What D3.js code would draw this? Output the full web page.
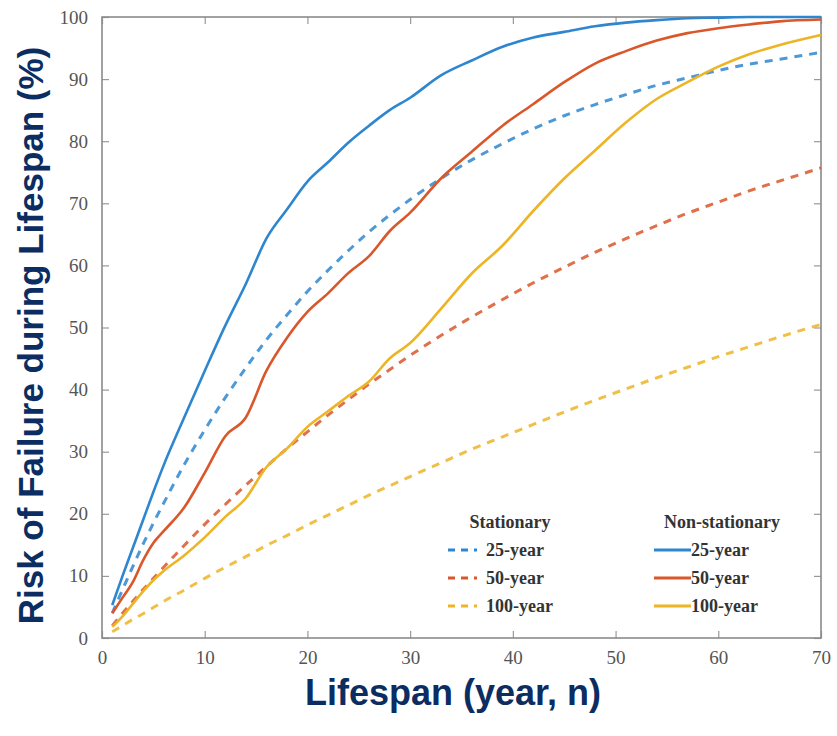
<!DOCTYPE html>
<html>
<head>
<meta charset="utf-8">
<script src="https://cdn.jsdelivr.net/npm/d3@7"></script>
<style>
  body { margin: 0; background: #fff; }
  .legend text { font-family: "Liberation Serif", "DejaVu Serif", serif; font-weight: bold; fill: #333; }
</style>
</head>
<body>
<div id="chart"></div>
<script>
// Lifespan (years) at which values were read
var years = [1, 2, 3, 4, 5, 6, 8, 10, 12, 14, 16, 18, 20, 22, 24, 26, 28, 30, 33, 36, 39, 42, 45, 48, 51, 54, 57, 60, 63, 66, 70];

// Stationary risk (%)
var stat25  = [4.0, 7.8, 11.5, 15.1, 18.5, 21.7, 27.9, 33.5, 38.7, 43.5, 48.0, 52.0, 55.8, 59.2, 62.4, 65.4, 68.1, 70.6, 74.0, 77.0, 79.6, 82.0, 84.1, 85.9, 87.5, 89.0, 90.2, 91.4, 92.4, 93.2, 94.3];
var stat50  = [2.0, 4.0, 5.9, 7.8, 9.6, 11.4, 14.9, 18.3, 21.5, 24.6, 27.6, 30.5, 33.2, 35.9, 38.4, 40.9, 43.2, 45.5, 48.7, 51.7, 54.5, 57.2, 59.7, 62.1, 64.3, 66.4, 68.4, 70.2, 72.0, 73.6, 75.7];
var stat100 = [1.0, 2.0, 3.0, 3.9, 4.9, 5.9, 7.7, 9.6, 11.4, 13.1, 14.9, 16.5, 18.2, 19.8, 21.4, 23.0, 24.5, 26.0, 28.2, 30.4, 32.4, 34.4, 36.4, 38.3, 40.1, 41.9, 43.6, 45.3, 46.9, 48.5, 50.5];

// Non-stationary risk (%)
var ns25  = [5.3, 10, 14.5, 19, 23.5, 27.8, 35.5, 43, 50.3, 57, 64.3, 69, 73.5, 76.6, 79.8, 82.5, 85, 87, 90.6, 93, 95.2, 96.7, 97.6, 98.5, 99.1, 99.5, 99.8, 99.9, 100, 100, 100];
var ns50  = [4, 6.5, 9, 12.5, 15.3, 17.2, 21, 26.6, 32.5, 35.5, 43, 48.3, 52.5, 55.5, 58.8, 61.5, 65.5, 68.5, 74, 78.3, 82.5, 86, 89.5, 92.5, 94.5, 96.2, 97.4, 98.2, 98.8, 99.3, 99.6];
var ns100 = [1.8, 3.5, 5.5, 7.5, 9.3, 10.8, 13.3, 16.2, 19.5, 22.5, 27.5, 30.5, 34, 36.5, 39, 41.3, 45, 47.5, 53, 58.7, 63.2, 68.8, 74, 78.5, 83, 86.8, 89.5, 92, 94, 95.5, 97.1];

var xTicks = [0, 10, 20, 30, 40, 50, 60, 70];
var yTicks = [0, 10, 20, 30, 40, 50, 60, 70, 80, 90, 100];
var periods = ["25-year", "50-year", "100-year"];

var width = 837, height = 736;
var margin = {top: 17, right: 16, bottom: 98, left: 102};
var w = width - margin.left - margin.right,
    h = height - margin.top - margin.bottom;

var color = d3.scaleOrdinal().domain(periods).range(["#2e86cf", "#d9572a", "#edb526"]);

var xScale = d3.scaleLinear().domain([0, 70]).range([0, w]);
var yScale = d3.scaleLinear().domain([0, 100]).range([h, 0]);

var svg = d3.select("#chart").append("svg")
    .attr("width", width)
    .attr("height", height);

var g = svg.append("g")
    .attr("transform", "translate(" + margin.left + "," + margin.top + ")");

// Axes, MATLAB style ticks pointing inward
var xAxis = d3.axisBottom(xScale).tickValues(xTicks).tickSize(-7).tickPadding(13);
var yAxis = d3.axisLeft(yScale).tickValues(yTicks).tickSize(-7).tickPadding(14);

g.append("g").attr("class", "x axis")
    .attr("transform", "translate(0," + h + ")")
    .call(xAxis);
g.append("g").attr("class", "y axis")
    .call(yAxis);
g.append("g").attr("class", "x2 axis")
    .call(d3.axisTop(xScale).tickValues(xTicks).tickSize(-7).tickFormat(""));
g.append("g").attr("class", "y2 axis")
    .attr("transform", "translate(" + w + ",0)")
    .call(d3.axisRight(yScale).tickValues(yTicks).tickSize(-7).tickFormat(""));

g.selectAll(".domain").remove();
g.selectAll(".axis").attr("font-family", null);
g.selectAll(".tick line").attr("stroke", "#999").attr("stroke-width", 1.2);
g.selectAll(".tick text")
    .style("font-family", "'Liberation Serif', 'DejaVu Serif', serif")
    .style("font-size", "19px")
    .style("fill", "#555");

g.append("rect")
    .attr("width", w)
    .attr("height", h)
    .attr("fill", "none")
    .attr("stroke", "#8a8a8a")
    .attr("stroke-width", 1.6);

// Series
var series = [
  {name: "25-year", type: "stat", values: stat25},
  {name: "50-year", type: "stat", values: stat50},
  {name: "100-year", type: "stat", values: stat100},
  {name: "25-year", type: "ns", values: ns25},
  {name: "50-year", type: "ns", values: ns50},
  {name: "100-year", type: "ns", values: ns100}
];

var line = d3.line()
    .x(function(d) { return xScale(d.n); })
    .y(function(d) { return yScale(d.v); })
    .curve(d3.curveMonotoneX);

var body = g.append("g").attr("class", "chart-body");

// draw stationary first, then non-stationary on top, in reverse period order
body.selectAll(".line")
    .data(series.slice(0, 3).reverse().concat(series.slice(3).reverse()))
  .enter().append("path")
    .attr("class", "line")
    .attr("fill", "none")
    .attr("stroke", function(d) { return color(d.name); })
    .attr("stroke-width", function(d) { return d.type === "stat" ? 3 : 2.6; })
    .attr("stroke-dasharray", function(d) { return d.type === "stat" ? "8,7" : null; })
    .attr("opacity", function(d) { return d.type === "stat" ? 0.85 : 1; })
    .attr("d", function(d) {
      return line(years.map(function(n, i) { return {n: n, v: d.values[i]}; }));
    });

// Legend
var legend = g.append("g").attr("class", "legend");
var cols = [
  {title: "Stationary", cx: 408, x0: 346, x1: 375, tx: 384, dash: "7,6"},
  {title: "Non-stationary", cx: 620, x0: 552, x1: 589, tx: 589, dash: null}
];

cols.forEach(function(c) {
  legend.append("text")
      .attr("x", c.cx)
      .attr("y", 511)
      .attr("text-anchor", "middle")
      .style("font-size", "18px")
      .text(c.title);

  var item = legend.selectAll(".item-" + c.title)
      .data(periods)
    .enter().append("g")
      .attr("transform", function(d, i) { return "translate(0," + (533 + i * 28) + ")"; });

  item.append("line")
      .attr("x1", c.x0)
      .attr("x2", c.x1)
      .attr("stroke", function(d) { return color(d); })
      .attr("stroke-width", 3)
      .attr("stroke-dasharray", c.dash);

  item.append("text")
      .attr("x", c.tx)
      .attr("dy", "0.35em")
      .style("font-size", "18px")
      .text(function(d) { return d; });
});

// Axis titles
svg.append("text")
    .attr("transform", "translate(43," + (margin.top + h / 2 + 8) + ") rotate(-90)")
    .attr("text-anchor", "middle")
    .style("font-family", "Liberation Sans, Arial, sans-serif")
    .style("font-weight", "bold")
    .style("font-size", "35px")
    .style("fill", "#0c2d62")
    .text("Risk of Failure during Lifespan (%)");

svg.append("text")
    .attr("x", 453)
    .attr("y", 705)
    .attr("text-anchor", "middle")
    .style("font-family", "Liberation Sans, Arial, sans-serif")
    .style("font-weight", "bold")
    .style("font-size", "36px")
    .style("fill", "#0c2d62")
    .text("Lifespan (year, n)");
</script>
</body>
</html>
